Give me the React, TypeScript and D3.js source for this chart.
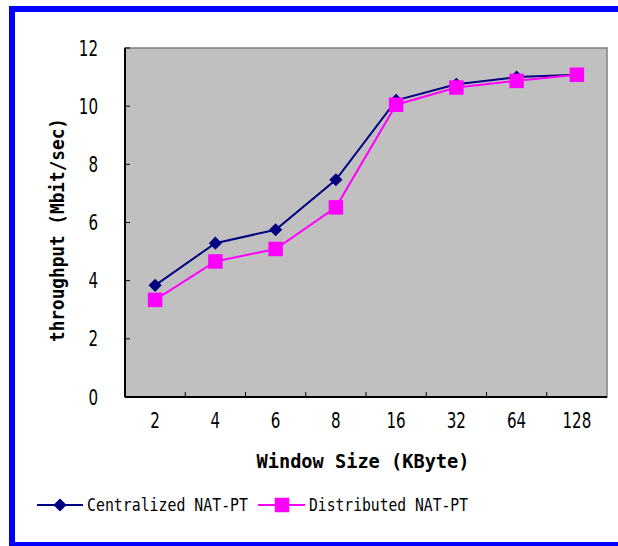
import React from 'react'
import * as d3 from 'd3'

// window sizes (KByte) and throughput (Mbit/sec)
const windowSizes = ['2', '4', '6', '8', '16', '32', '64', '128']
const centralized = [3.84, 5.29, 5.75, 7.47, 10.2, 10.75, 11.0, 11.08]
const distributed = [3.34, 4.66, 5.09, 6.52, 10.05, 10.64, 10.87, 11.08]
const yTicks = [0, 2, 4, 6, 8, 10, 12]

const W = 618, H = 546
const plot = { left: 125, top: 48, right: 607, bottom: 397 }

const numFont = '"DejaVu Sans Condensed", "Liberation Sans Narrow", sans-serif'
const monoFont = '"DejaVu Sans Mono", "Liberation Mono", monospace'

// narrow digits like the original (about 9.4px per digit)
const digitLen = (s: string | number) => String(s).length * 9.6

export default function App() {
    const x = d3.scaleBand<string>()
        .domain(windowSizes)
        .range([plot.left, plot.right])
    const y = d3.scaleLinear()
        .domain([0, 12])
        .range([plot.bottom, plot.top])

    const cx = (d: string) => (x(d) as number) + x.bandwidth() / 2

    const line = d3.line<number>()
        .x((d, i) => cx(windowSizes[i]))
        .y(d => y(d))

    const diamond = d3.symbol().type(d3.symbolDiamond2).size(110)()
    const square = d3.symbol().type(d3.symbolSquare).size(210)()

    // category boundaries for x ticks
    const bounds = windowSizes.slice(1).map(d => x(d) as number)

    return (
        <svg width={W} height={H} style={{ position: 'absolute', left: 0, top: 0 }}>
            <rect x={0} y={0} width={W} height={H} fill="#fff" />
            {/* outer blue frame */}
            <rect x={12} y={9} width={640} height={536} fill="none" stroke="#0000ff" strokeWidth={6} />

            {/* plot area */}
            <rect x={plot.left} y={plot.top} width={plot.right - plot.left} height={plot.bottom - plot.top}
                fill="#c0c0c0" stroke="#808080" strokeWidth={1.5} />
            <line x1={plot.left} x2={plot.left} y1={plot.top} y2={plot.bottom} stroke="#000" strokeWidth={2} />
            <line x1={plot.left} x2={plot.right} y1={plot.bottom} y2={plot.bottom} stroke="#000" strokeWidth={2} />

            {/* y axis ticks + labels */}
            {yTicks.map(t => (
                <g key={t}>
                    <line x1={plot.left} x2={plot.left + 5} y1={y(t)} y2={y(t)} stroke="#000" strokeWidth={1} />
                    <text x={98} y={y(t)} dy="0.36em" textAnchor="end" fontFamily={numFont} fontSize={21}
                        textLength={digitLen(t)} lengthAdjust="spacingAndGlyphs">{t}</text>
                </g>
            ))}

            {/* x axis ticks + labels */}
            {bounds.map((b, i) => (
                <line key={i} x1={b} x2={b} y1={plot.bottom} y2={plot.bottom - 5} stroke="#000" strokeWidth={1} />
            ))}
            {windowSizes.map(d => (
                <text key={d} x={cx(d)} y={420} dy="0.36em" textAnchor="middle" fontFamily={numFont} fontSize={21}
                    textLength={digitLen(d)} lengthAdjust="spacingAndGlyphs">{d}</text>
            ))}

            {/* axis titles */}
            <text x={363} y={461} dy="0.36em" textAnchor="middle" fontFamily={monoFont} fontWeight="bold" fontSize={20}
                textLength={213} lengthAdjust="spacingAndGlyphs">
                Window Size (KByte)
            </text>
            <text transform="translate(57,230) rotate(-90)" dy="0.36em" textAnchor="middle" fontFamily={monoFont}
                fontWeight="bold" fontSize={20} textLength={224} lengthAdjust="spacingAndGlyphs">
                throughput (Mbit/sec)
            </text>

            {/* series */}
            <path d={line(centralized) || ''} fill="none" stroke="#000080" strokeWidth={2} />
            {centralized.map((v, i) => (
                <path key={i} d={diamond || ''} transform={`translate(${cx(windowSizes[i])},${y(v)})`} fill="#000080" />
            ))}
            <path d={line(distributed) || ''} fill="none" stroke="#ff00ff" strokeWidth={2} />
            {distributed.map((v, i) => (
                <path key={i} d={square || ''} transform={`translate(${cx(windowSizes[i])},${y(v)})`} fill="#ff00ff" />
            ))}

            {/* legend */}
            <g>
                <line x1={37} x2={83} y1={505} y2={505} stroke="#000080" strokeWidth={2} />
                <path d={diamond || ''} transform="translate(60,505)" fill="#000080" />
                <text x={87} y={505} dy="0.36em" fontFamily={monoFont} fontSize={18}
                    textLength={161} lengthAdjust="spacingAndGlyphs">Centralized NAT-PT</text>
                <line x1={258} x2={305} y1={505} y2={505} stroke="#ff00ff" strokeWidth={2} />
                <path d={square || ''} transform="translate(282,505)" fill="#ff00ff" />
                <text x={309} y={505} dy="0.36em" fontFamily={monoFont} fontSize={18}
                    textLength={159} lengthAdjust="spacingAndGlyphs">Distributed NAT-PT</text>
            </g>
        </svg>
    )
}
